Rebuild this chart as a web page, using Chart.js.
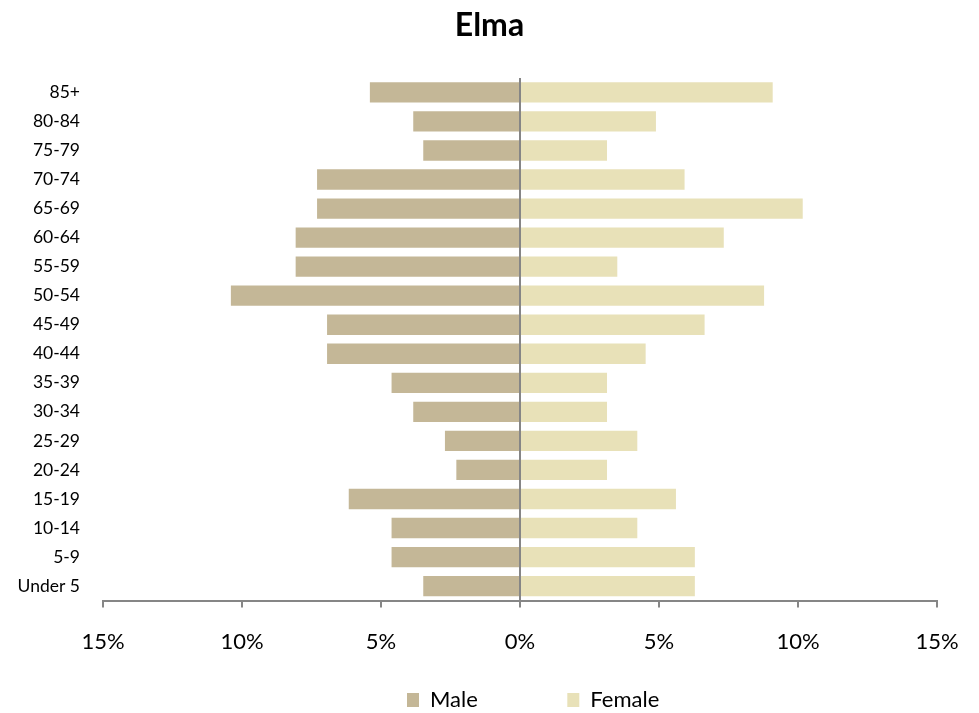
<!DOCTYPE html>
<html>
<head>
<meta charset="utf-8">
<script src="https://cdn.jsdelivr.net/npm/chart.js@4/dist/chart.umd.min.js"></script>
<style>
    html, body { margin: 0; padding: 0; background: #fff; }
    #wrap { width: 979px; height: 713px; }
</style>
</head>
<body>
<div id="wrap"><canvas id="pyramidChart"></canvas></div>
<script>
    // Age groups, top to bottom
    const ageGroups = ['85+', '80-84', '75-79', '70-74', '65-69', '60-64', '55-59', '50-54', '45-49',
        '40-44', '35-39', '30-34', '25-29', '20-24', '15-19', '10-14', '5-9', 'Under 5'];

    // Share of population (%)
    const malePct = [5.4, 3.84, 3.48, 7.3, 7.3, 8.07, 8.07, 10.4, 6.94,
        6.94, 4.62, 3.84, 2.7, 2.29, 6.16, 4.62, 4.62, 3.48];
    const femalePct = [9.09, 4.89, 3.13, 5.92, 10.17, 7.33, 3.5, 8.78, 6.64,
        4.52, 3.13, 3.13, 4.22, 3.13, 5.61, 4.22, 6.29, 6.29];

    const xTicks = [-15, -10, -5, 0, 5, 10, 15];

    const font = 'Lato';
    const axisGray = '#868686';
    const legendSize = 22;
    const legendPad = 5;

    // pad the first legend entry so the second one sits further right
    const measure = document.createElement('canvas').getContext('2d');
    measure.font = legendSize + 'px ' + font;
    const gapSpaces = Math.round((90 - legendPad) / measure.measureText(' ').width);

    // move the legend row so it starts where the reference has it
    const legendShift = {
        id: 'legendShift',
        afterLayout(chart) {
            const lg = chart.legend;
            if (!lg || !lg.lineWidths) return;
            const p = lg.options.labels.padding;
            const start = (lg.left + p + lg.right - lg.lineWidths[0]) / 2;
            const dx = 407 - start;
            lg.left += dx;
            lg.right += dx;
            lg.top += 8;
            lg.bottom += 8;
        }
    };

    const ctx = document.getElementById('pyramidChart').getContext('2d');
    new Chart(ctx, {
        type: 'bar',
        data: {
            labels: ageGroups,
            datasets: [
                { label: 'Male', data: malePct.map(v => -v), backgroundColor: '#C4B797' },
                { label: 'Female', data: femalePct, backgroundColor: '#E8E1B8' }
            ]
        },
        options: {
            indexAxis: 'y',
            responsive: true,
            maintainAspectRatio: false,
            animation: false,
            barPercentage: 0.7,
            categoryPercentage: 1.0,
            layout: { padding: 0 },
            plugins: {
                title: {
                    display: true,
                    text: 'Elma',
                    color: '#000',
                    font: { family: font, size: 32, weight: 'bold' },
                    padding: { top: 6, bottom: 33.5 }
                },
                legend: {
                    position: 'bottom',
                    labels: {
                        color: '#000',
                        font: { family: font, size: legendSize },
                        boxWidth: 12,
                        boxHeight: 14,
                        padding: legendPad,
                        generateLabels: function (chart) {
                            const items = Chart.defaults.plugins.legend.labels.generateLabels(chart);
                            items.forEach(it => { it.lineWidth = 0; });
                            items[0].text = items[0].text + ' '.repeat(gapSpaces);
                            return items;
                        }
                    }
                },
                tooltip: { enabled: false }
            },
            scales: {
                x: {
                    stacked: true,
                    min: -15,
                    max: 15,
                    z: 1,
                    afterBuildTicks: function (scale) {
                        scale.ticks = xTicks.map(v => ({ value: v }));
                    },
                    afterFit: function (scale) {
                        scale.paddingRight = 42;
                    },
                    border: { display: true, color: axisGray, width: 2 },
                    grid: {
                        drawOnChartArea: true,
                        color: c => (c.tick && c.tick.value === 0 ? axisGray : 'rgba(0,0,0,0)'),
                        lineWidth: 2,
                        drawTicks: true,
                        tickLength: 7,
                        tickColor: axisGray,
                        tickWidth: 2
                    },
                    ticks: {
                        color: '#000',
                        font: { family: font, size: 22 },
                        padding: 21,
                        maxRotation: 0,
                        callback: v => Math.abs(v) + '%'
                    }
                },
                y: {
                    stacked: true,
                    afterFit: function (scale) {
                        scale.width = 103;
                    },
                    border: { display: false },
                    grid: { display: false, drawTicks: false },
                    ticks: {
                        color: '#000',
                        font: { family: font, size: 17.5 },
                        padding: 23,
                        autoSkip: false
                    }
                }
            }
        },
        plugins: [legendShift]
    });
</script>
</body>
</html>
